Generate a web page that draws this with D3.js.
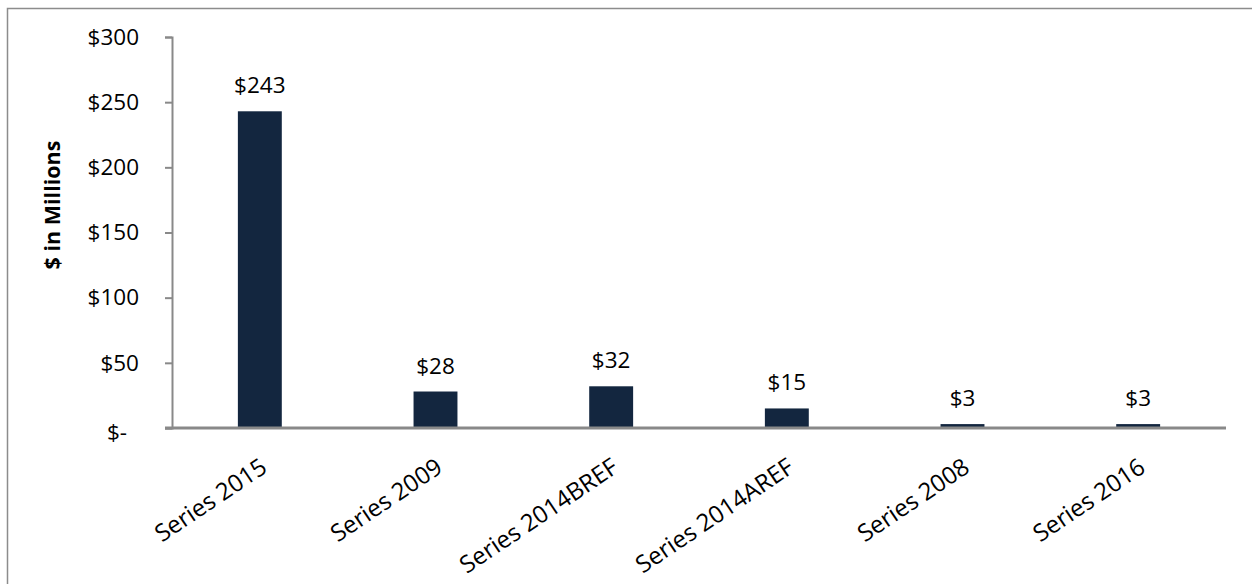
<!DOCTYPE html>
<html>
<head>
<meta charset="utf-8">
<script src="https://cdn.jsdelivr.net/npm/d3@7"></script>
<style>
  html, body { margin: 0; padding: 0; background: #fff; }
  svg { display: block; }
  text { font-family: "Open Sans", "Noto Sans", sans-serif; fill: #000; }
</style>
</head>
<body>
<svg id="chart" width="1252" height="584"></svg>
<script>
// Outstanding amounts per bond series, $ millions
const categories = ["Series 2015", "Series 2009", "Series 2014BREF", "Series 2014AREF", "Series 2008", "Series 2016"];
const amounts = [243, 28, 32, 15, 3, 3];
const yTicks = [0, 50, 100, 150, 200, 250, 300];
const yTitle = "$ in Millions";

const svg = d3.select("#chart");
const W = 1252, H = 584;

const plot = { left: 172, right: 1226, top: 37, bottom: 428 };

// chart area frame
svg.append("rect")
  .attr("x", 7.5).attr("y", 8.5)
  .attr("width", W + 10).attr("height", H + 10)
  .attr("fill", "none").attr("stroke", "#8c8c8c").attr("stroke-width", 1.5);

const x = d3.scaleBand()
  .domain(categories)
  .range([plot.left, plot.right])
  .paddingInner(0.75)
  .paddingOuter(0.375);

const y = d3.scaleLinear()
  .domain([0, 300])
  .range([plot.bottom, plot.top]);

// y axis
const yAxis = svg.append("g")
  .attr("transform", `translate(${plot.left},0)`)
  .call(d3.axisLeft(y)
    .tickValues(yTicks)
    .tickSize(7)
    .tickPadding(26)
    .tickFormat(d => d === 0 ? "$-" : "$" + d));
yAxis.select(".domain").attr("stroke", "#898989").attr("stroke-width", 2);
yAxis.selectAll(".tick line").attr("stroke", "#898989").attr("stroke-width", 2);
yAxis.selectAll(".tick text")
  .attr("font-size", 22.5)
  .attr("font-family", "Open Sans")
  .attr("fill", "#000")
  .attr("dx", d => d === 0 ? -12 : 0)
  .attr("dy", d => d === 0 ? "0.5em" : "0.32em");

// bars
svg.append("g").selectAll("rect")
  .data(categories)
  .join("rect")
  .attr("x", d => x(d))
  .attr("width", x.bandwidth())
  .attr("y", (d, i) => y(amounts[i]))
  .attr("height", (d, i) => y(0) - y(amounts[i]))
  .attr("fill", "#13263f");

// value labels
svg.append("g").selectAll("text")
  .data(categories)
  .join("text")
  .attr("x", d => x(d) + x.bandwidth() / 2)
  .attr("y", (d, i) => y(amounts[i]) - 18)
  .attr("text-anchor", "middle")
  .attr("font-size", 22.5)
  .text((d, i) => "$" + amounts[i]);

// x axis
const xAxis = svg.append("g")
  .attr("transform", `translate(0,${plot.bottom})`)
  .call(d3.axisBottom(x).tickSize(0).tickPadding(0));
xAxis.select(".domain")
  .attr("d", `M${plot.left - 7},0H${plot.right}`)
  .attr("stroke", "#898989").attr("stroke-width", 3);
xAxis.selectAll(".tick text")
  .attr("font-size", 24)
  .attr("fill", "#000")
  .attr("text-anchor", "end")
  .attr("dy", "0.35em")
  .attr("transform", "translate(4,36) rotate(-34)");

// y axis title
svg.append("text")
  .attr("transform", `translate(60,205) rotate(-90)`)
  .attr("text-anchor", "middle")
  .attr("font-size", 21.5)
  .attr("font-weight", "bold")
  .text(yTitle);
</script>
</body>
</html>
